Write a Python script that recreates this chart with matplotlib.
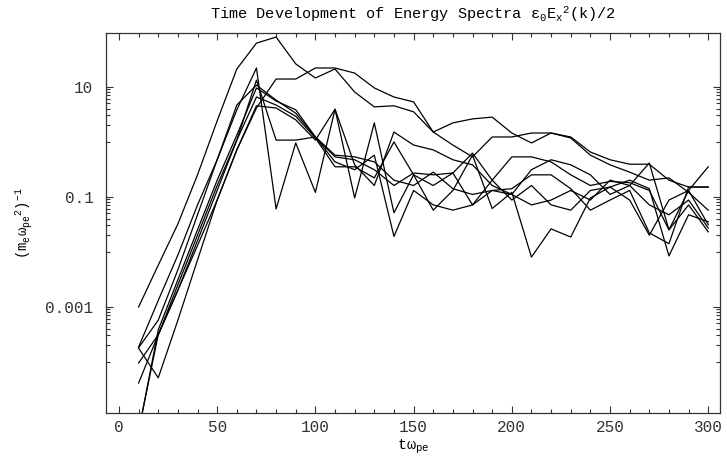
import numpy as np
import matplotlib
matplotlib.use("Agg")
import matplotlib.pyplot as plt
from matplotlib.ticker import FixedLocator, NullFormatter, FixedFormatter

t = [10, 20, 30, 40, 50, 60, 70, 80, 90, 100, 110, 120, 130, 140, 150,
     160, 170, 180, 190, 200, 210, 220, 230, 240, 250, 260, 270, 280, 290, 300]

mode_a = [9.9e-4, 5.7e-3, 0.032, 0.25, 2.4, 21, 62, 80, 26, 14.4, 21, 8.0, 4.3, 4.5, 3.5,
          1.5, 2.2, 2.6, 2.8, 1.44, 0.95, 1.44, 1.22, 0.65, 0.47, 0.39, 0.39, 0.20, 0.15, 0.15]
mode_b = [4.1e-5, 3.1e-4, 2.0e-3, 0.013, 0.087, 0.71, 4.1, 13.8, 13.8, 21.9, 21.9, 17.7, 9.5, 6.5, 5.3,
          1.5, 0.87, 0.53, 1.22, 1.22, 1.44, 1.44, 1.17, 0.57, 0.38, 0.28, 0.20, 0.22, 0.12, 0.057]
mode_z = [1.8e-4, 5.7e-4, 4.7e-3, 0.047, 0.47, 3.8, 21.9, 0.060, 0.95, 0.12, 3.9, 0.095, 2.2, 0.051, 0.25,
          0.16, 0.27, 0.071, 0.20, 0.087, 0.16, 0.071, 0.057, 0.13, 0.15, 0.087, 0.020, 0.087, 0.13, 0.031]
mode_c = [1.85e-4, 1.3e-3, 8.7e-3, 0.071, 0.47, 4.65, 10.7, 5.7, 3.3, 1.22, 0.53, 0.47, 0.31, 0.16, 0.27,
          0.25, 0.27, 0.62, 0.20, 0.53, 0.53, 0.43, 0.25, 0.16, 0.19, 0.18, 0.13, 0.025, 0.13, 0.35]
mode_d = [9.5e-5, 3.1e-4, 2.0e-3, 0.016, 0.13, 1.07, 6.5, 4.65, 2.9, 1.17, 0.35, 0.35, 0.22, 0.99, 0.25,
          0.057, 0.13, 0.57, 0.061, 0.12, 0.0080, 0.026, 0.0185, 0.095, 0.15, 0.20, 0.14, 0.0084, 0.047, 0.035]
mode_e = [1.77e-4, 5.1e-5, 5.7e-4, 7.1e-3, 0.087, 0.71, 4.5, 4.1, 2.5, 1.07, 3.9, 0.38, 0.16, 1.5, 0.87,
          0.71, 0.47, 0.38, 0.16, 0.11, 0.31, 0.47, 0.38, 0.25, 0.11, 0.16, 0.41, 0.025, 0.071, 0.023]
mode_f = [5.7e-6, 3.1e-4, 2.5e-3, 0.020, 0.16, 1.07, 13.2, 1.07, 1.07, 1.22, 0.57, 0.53, 0.43, 0.20, 0.16,
          0.28, 0.14, 0.11, 0.13, 0.14, 0.25, 0.25, 0.14, 0.057, 0.087, 0.13, 0.022, 0.014, 0.15, 0.15]
mode_g = [5.2e-6, 3.8e-4, 3.1e-3, 0.025, 0.20, 1.32, 9.5, 5.5, 3.8, 1.22, 0.43, 0.31, 0.57, 0.019, 0.13,
          0.071, 0.057, 0.071, 0.13, 0.11, 0.071, 0.087, 0.13, 0.087, 0.20, 0.16, 0.071, 0.047, 0.087, 0.027]

series = [mode_a, mode_b, mode_z, mode_c, mode_d, mode_e, mode_f, mode_g]

x_ticks = [0, 50, 100, 150, 200, 250, 300]
y_ticks = [10, 0.1, 0.001]
y_tick_labels = ["10", "0.1", "0.001"]

plt.rcParams['mathtext.fontset'] = 'custom'
plt.rcParams['mathtext.rm'] = 'Liberation Mono'
plt.rcParams['mathtext.it'] = 'Liberation Mono'

fig = plt.figure(figsize=(7.27, 4.63), dpi=100)
ax = fig.add_axes([0.1458, 0.108, 0.8446, 0.8214])

for s in series:
    ax.plot(t, s, color='black', lw=0.9)

ax.set_yscale('log')
ax.set_xlim(-6.6, 306)
ax.set_ylim(1.17e-5, 96)

ax.xaxis.set_major_locator(FixedLocator(x_ticks))
ax.xaxis.set_minor_locator(FixedLocator(list(range(0, 310, 10))))
ax.yaxis.set_major_locator(FixedLocator(y_ticks))
ax.yaxis.set_major_formatter(FixedFormatter(y_tick_labels))
minor_y = [m * 10.0 ** e for e in (0, -2, -4) for m in range(1, 10)]
ax.yaxis.set_minor_locator(FixedLocator(minor_y))
ax.yaxis.set_minor_formatter(NullFormatter())

ax.tick_params(which='both', direction='in', top=True, right=True, width=0.8, color='#333333')
ax.tick_params(which='major', length=5)
ax.tick_params(which='minor', length=3)
for lab in ax.get_xticklabels() + ax.get_yticklabels():
    lab.set_fontfamily('Liberation Mono')
    lab.set_fontsize(11.5)
    lab.set_color('#333333')
ax.tick_params(axis='x', pad=5)
ax.tick_params(axis='y', pad=9)

for sp in ax.spines.values():
    sp.set_linewidth(0.9)
    sp.set_color('#333333')

ax.set_title(r'Time Development of Energy Spectra $\epsilon_0\mathrm{E_x}^2$(k)/2',
             fontfamily='Liberation Mono', fontsize=11, pad=10)
ax.set_xlabel(r'$\mathrm{t}\omega_\mathrm{pe}$', fontsize=11, labelpad=2)
ax.set_ylabel(r'$(\mathrm{m_e}\omega_\mathrm{pe}{}^2)^{-1}$', fontsize=10, labelpad=8)

fig.savefig('out.png', dpi=100)
